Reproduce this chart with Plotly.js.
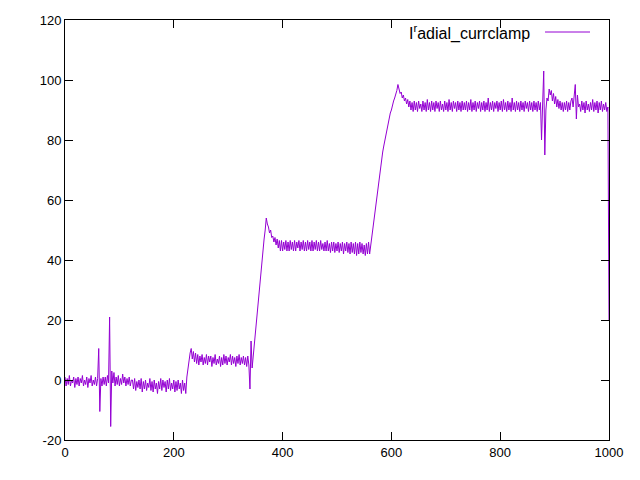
<!DOCTYPE html>
<html>
<head>
<meta charset="utf-8">
<script src="https://cdn.plot.ly/plotly-3.0.1.min.js"></script>
<style>html,body{margin:0;padding:0;background:#fff;}#chart{width:640px;height:480px;}</style>
</head>
<body>
<div id="chart"></div>
<script>
// Series name
const seriesName = "I<sup>r</sup>adial_currclamp";

// Each group is spread evenly over its [start, end] x span (segmentSpans below).
const baseA = [1, -2, 0.5, -1.5, 1.5, -2, 0, -1, 1, -2.5,
               0.5, -1.5, 1, -2, 0.5, -1, 1.5, -2, 0, -1.5,
               1, -2.5, 0.5, -1, 1.5, -2, 0, -1.5, 1, -2, 0.5];
const spikesA = [10.5, -10.5, 0.5, -2, 1, -1.5, 1, -2, 1.5, -1, 21, -15.5, 3, -1, 2.5];
const baseB = [-2, 1, -1.5, 1.5, -2, 0.5, -1.5, 2, -1, 1, -2, 0.5, -1.5, 1, -2, 0];
const baseC = [0, -3, 0.5, -3.5, -0.5, -2.5, 0, -3, 0.5, -4,
               -0.5, -3, 0, -3.5, -1, -2.5, 0.5, -3.5, -0.5, -4,
               0, -3, -1, -4.5, -0.5, -3, 0.5, -3.5, 0, -2.5,
               -0.5, -4, 0, -3, 0.5, -3.5, -1, -3, 0, -4,
               -0.5, -3.5, 0, -3, -1, -4.5, 0, -3.5, -1];
const step1 = [-4.5, 1, 4, 8, 9, 10.5, 7, 9.5, 6, 9];
const plateau1 = [5.5, 8.5, 5, 8, 6, 8.5, 5, 7.5, 5.5, 8.5,
                  5, 8, 6, 8, 4.5, 7.5, 5.5, 8.5, 5, 7,
                  5.5, 8, 4.5, 7.5, 5, 8.5, 5.5, 8, 5, 7.5,
                  6, 8.5, 5, 8, 5.5, 7.5, 4.5, 8, 5.5, 8.5,
                  5, 7.5, 5.5, 8, 5, 7.5, 4.5, 8, 5];
const step2 = [-3, 13, 4, 8, 12, 17, 21, 25, 29, 33,
               36, 40, 43, 47, 50, 54, 52, 51, 49, 50,
               47.5, 48, 46, 47.5, 45, 47, 44, 46.5];
const plateau2 = [43, 46.5, 43, 46, 43.5, 46.5, 43, 46, 43, 46.5,
                  43.5, 46, 43, 46.5, 43, 46, 44, 46.5, 43, 46,
                  43.5, 46.5, 43, 46, 43, 46.5, 43.5, 46, 43, 46.5,
                  43, 46, 43.5, 46.5, 43, 46, 43, 46.5, 43.5, 45.5,
                  43, 46, 43, 46.5, 43, 45.5, 42.5, 46, 43, 46,
                  42.5, 45.5, 43, 46, 42.5, 45.5, 43, 46, 42, 45.5,
                  43, 46, 42.5, 45.5, 42, 46, 42.5, 45.5, 42, 46,
                  41.5, 45.5, 42, 46, 42.5, 45.5, 42, 45, 41.5, 45.5,
                  42, 46, 42];
const step3 = [45, 47, 50, 54, 57, 60, 63, 66, 69, 72,
               74, 76, 78, 80, 82, 84, 86, 87, 89, 90,
               92, 93, 94, 95, 96.5, 98.5, 97, 95.5, 96, 94,
               95, 93, 94, 92, 93.5, 91, 93, 90];
const plateau3 = [92.5, 89.5, 93, 90, 92.5, 89.5, 93, 90.5, 92, 89.5,
                  93, 90, 92.5, 89.5, 93.5, 90, 92.5, 89.5, 93, 90,
                  92.5, 89.5, 93, 90.5, 92.5, 89.5, 93, 90, 92, 89.5,
                  93, 90, 92.5, 89.5, 93.5, 90, 92.5, 89.5, 93, 90.5,
                  92.5, 89.5, 93, 90, 92.5, 89.5, 93, 90, 92.5, 90,
                  93, 89.5, 92.5, 90, 93.5, 89.5, 92.5, 90, 93, 89.5,
                  92.5, 90.5, 93, 89.5, 92.5, 90, 93, 89.5, 92.5, 90,
                  94, 89.5, 92.5, 90, 93, 89.5, 92.5, 90.5, 93, 89.5,
                  92.5, 90, 93, 89.5, 93.5, 90, 92.5, 89.5, 93, 90,
                  92.5, 89.5, 94, 90, 92.5, 89.5, 93, 90, 92.5, 89.5,
                  93, 90, 92.5, 89.5, 93, 90.5, 92.5, 89.5, 93, 90,
                  92.5, 89.5, 93, 90, 92.5, 89.5, 93, 90, 92.5];
const disturb1 = [80, 92, 103, 75, 90, 94, 93, 97, 95, 96.5,
                  93, 95.5, 92, 94.5, 91, 93.5, 90.5, 93, 90, 92.5, 89.5];
const plateau4 = [92.5, 90, 93, 89.5, 92.5, 90, 93];
const disturb2 = [94, 91, 96, 98.5, 87, 95, 91];
const plateau5 = [92, 89.5, 93, 90, 92.5, 89, 93, 90, 92, 89.5,
                  92.5, 90, 93.5, 89.5, 92.5, 90, 93, 89, 92.5, 90,
                  93, 89.5, 92, 90, 92.5, 89.5];
const finalDrop = [91, 20];

// x span [start, end] of each group above
const segmentSpans = [[0, 60], [62, 90], [92, 122], [124, 220], [222, 240], [242, 338],
                      [340, 394], [396, 560], [562, 636], [638, 874], [876, 916],
                      [918, 930], [932, 944], [946, 996], [998, 1000]];
const segmentValues = [baseA, spikesA, baseB, baseC, step1, plateau1, step2, plateau2,
                       step3, plateau3, disturb1, plateau4, disturb2, plateau5, finalDrop];

const xTicks = [0, 200, 400, 600, 800, 1000];
const yTicks = [-20, 0, 20, 40, 60, 80, 100, 120];

const xValues = [], yValues = [];
segmentValues.forEach((vals, k) => {
  const [a, b] = segmentSpans[k];
  vals.forEach((v, i) => {
    xValues.push(vals.length > 1 ? a + (b - a) * i / (vals.length - 1) : a);
    yValues.push(v);
  });
});

const color = '#9400D3';
const font = {family: 'Liberation Sans, Arial, sans-serif', size: 13, color: '#000'};
const legendFont = {family: 'Liberation Sans, Arial, sans-serif', size: 16, color: '#000'};

const trace = {
  x: xValues, y: yValues, type: 'scatter', mode: 'lines',
  line: {color: color, width: 1}, name: seriesName, showlegend: false,
  hoverinfo: 'skip'
};

const axisCommon = {
  showgrid: false, zeroline: false, showline: true, linecolor: '#000', linewidth: 1,
  mirror: 'allticks', ticks: 'inside', ticklen: 8, tickcolor: '#000', tickwidth: 1,
  tickfont: font
};

const layout = {
  width: 640, height: 480,
  margin: {l: 65, r: 31, t: 20, b: 40},
  paper_bgcolor: '#fff', plot_bgcolor: '#fff',
  font: font,
  xaxis: Object.assign({}, axisCommon, {range: [0, 1000], tickvals: xTicks, ticktext: xTicks.map(String)}),
  yaxis: Object.assign({}, axisCommon, {range: [-20, 120], tickvals: yTicks, ticktext: yTicks.map(String)}),
  annotations: [{
    xref: 'paper', yref: 'paper', x: 0.8585, y: 0.9714, xanchor: 'right', yanchor: 'middle',
    text: seriesName, showarrow: false, font: legendFont
  }],
  shapes: [{
    type: 'line', xref: 'paper', yref: 'paper', x0: 0.8824, x1: 0.9651, y0: 0.9714, y1: 0.9714,
    line: {color: color, width: 1}
  }]
};

Plotly.newPlot('chart', [trace], layout, {staticPlot: true, displayModeBar: false});
</script>
</body>
</html>
